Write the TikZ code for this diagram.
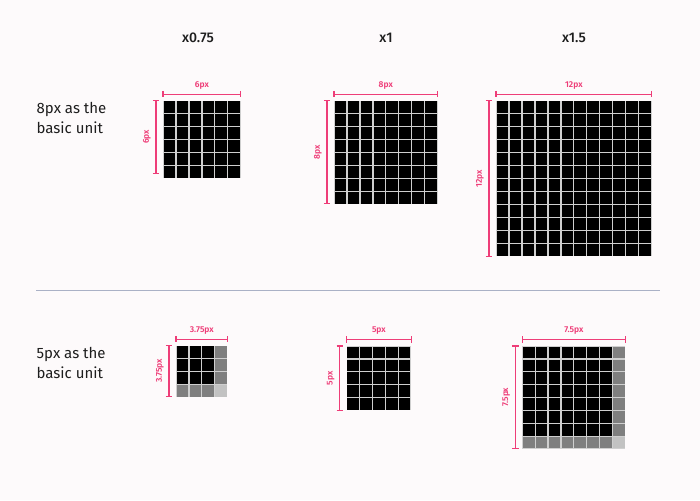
\documentclass[tikz,border=0pt]{standalone}
\usepackage{fontspec}
\setmainfont{Fira Sans}
\newfontfamily\fsmed{Fira Sans Medium}
\newfontfamily\fssemi{Fira Sans SemiBold}
\definecolor{bgc}{HTML}{FDFAFB}
\definecolor{dimc}{HTML}{EE3D78}
\definecolor{gapc}{HTML}{CFCFCF}
\definecolor{grayc}{HTML}{7F7F7F}
\definecolor{lgrayc}{HTML}{C2C2C2}
\definecolor{rulec}{HTML}{AAB1C6}
\definecolor{txtc}{HTML}{1E1E1E}
\tikzset{
  dimline/.style={draw=dimc, line width=1.1pt},
  dimlab/.style={text=dimc, font=\fssemi\fontsize{8.5}{9}\selectfont, inner sep=0pt},
  header/.style={text=txtc, font=\fsmed\fontsize{14}{16}\selectfont, inner sep=0pt},
  rowlab/.style={text=txtc, font=\fontsize{15}{20}\selectfont, inner sep=0pt, align=left, anchor=base west},
}
% #1 left, #2 top, #3 n, #4 pitch, #5 gray edge (1/0), #6 label, #7 name, #8 vertical dim length
\newcommand\pxgrid[8]{%
  \pgfmathsetmacro\gw{#3*#4}%
  \fill[gapc] (#1,#2) rectangle ++(\gw,\gw);
  \foreach \i in {1,...,#3} {
    \foreach \j in {1,...,#3} {
      \pgfmathsetmacro\cellcol{(#5==1 && (\i==#3 || \j==#3)) ? ((\i==#3 && \j==#3) ? 2 : 1) : 0}
      \ifcase\cellcol\relax
        \def\cc{black}\or\def\cc{grayc}\else\def\cc{lgrayc}\fi
      \fill[\cc] ({#1+(\i-1)*#4+0.65},{#2+(\j-1)*#4+0.65}) rectangle ({#1+\i*#4-0.65},{#2+\j*#4-0.65});
    }
  }
  % horizontal dimension
  \coordinate (#7hl) at (#1,{#2-6.5});
  \coordinate (#7hr) at ({#1+\gw},{#2-6.5});
  \draw[dimline] (#7hl) -- (#7hr);
  \draw[dimline] ([yshift=3.2pt]#7hl) -- ([yshift=-3.2pt]#7hl);
  \draw[dimline] ([yshift=3.2pt]#7hr) -- ([yshift=-3.2pt]#7hr);
  \node[dimlab] (#7ht) at ({#1+\gw/2},{#2-15.5}) {#6};
  % vertical dimension
  \coordinate (#7vt) at ({#1-7},#2);
  \coordinate (#7vb) at ({#1-7},{#2+#8});
  \draw[dimline] (#7vt) -- (#7vb);
  \draw[dimline] ([xshift=-3.2pt]#7vt) -- ([xshift=3.2pt]#7vt);
  \draw[dimline] ([xshift=-3.2pt]#7vb) -- ([xshift=3.2pt]#7vb);
  \node[dimlab, rotate=90] (#7vl) at ({#1-16},{#2+#8/2}) {#6};
}
\begin{document}
\begin{tikzpicture}[x=1pt,y=-1pt]
\fill[bgc] (0,0) rectangle (700,500);
\useasboundingbox (0,0) rectangle (700,500);
% headers
\node[header] (h1) at (198,37.5) {x0.75};
\node[header] (h2) at (386,37.5) {x1};
\node[header] (h3) at (574,37.5) {x1.5};
% row labels
\node[rowlab] (r1) at (36.5,133) {8px as the\\basic unit};
\node[rowlab] (r2) at (36.5,378) {5px as the\\basic unit};
% divider
\coordinate (dl) at (36,290.7);
\coordinate (dr) at (660,290.7);
\draw[rulec, line width=1.1pt] (dl) -- (dr);
% top grids
\pxgrid{163}{100.7}{6}{12.95}{0}{6px}{ga}{72.6}
\pxgrid{334}{100.7}{8}{12.95}{0}{8px}{gb}{102.6}
\pxgrid{496}{100.7}{12}{12.97}{0}{12px}{gc}{155.6}
% bottom grids
\pxgrid{176}{345.7}{4}{12.87}{1}{3.75px}{gd}{50.5}
\pxgrid{346.7}{346}{5}{12.87}{0}{5px}{ge}{64.3}
\pxgrid{522.3}{346}{8}{12.88}{1}{7.5px}{gf}{102.5}
\end{tikzpicture}
\end{document}
